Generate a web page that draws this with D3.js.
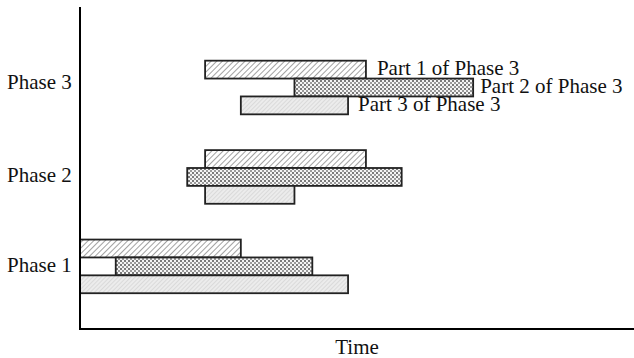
<!DOCTYPE html>
<html lang="en">
<head>
<meta charset="UTF-8">
<title>phases</title>
<script src="https://cdn.jsdelivr.net/npm/d3@7"></script>
<style>
	body { margin: 0; background: #fff; }
	text { font-family: "Liberation Serif", "Times New Roman", serif; fill: #111; }
</style>
</head>
<body>
<svg id="chart" width="634" height="358"></svg>
<script>
var phases = ["Phase 1", "Phase 2", "Phase 3"];
var parts = ["Part 1", "Part 2", "Part 3"];
// start / end of each part, in time units, per phase
var phase1 = [[0, 9], [2, 13], [0, 15]];
var phase2 = [[7, 16], [6, 18], [7, 12]];
var phase3 = [[7, 16], [12, 22], [9, 15]];
var tickPos = [3.6, 8.65, 13.85];
var partLabels = ["Part 1 of Phase 3", "Part 2 of Phase 3", "Part 3 of Phase 3"];

var svg = d3.select("#chart");
var x = d3.scaleLinear().domain([0, 31]).range([80, 634]);
var y = d3.scaleLinear().domain([0, 18]).range([329, 7]);
var labelGap = [11, 7, 10];

var defs = svg.append("defs");
// part 1 : diagonal hatch
var p1 = defs.append("pattern").attr("id", "pat1").attr("patternUnits", "userSpaceOnUse")
	.attr("width", 4).attr("height", 4).attr("patternTransform", "rotate(45)");
p1.append("rect").attr("width", 4).attr("height", 4).attr("fill", "#fff");
p1.append("line").attr("x1", 0).attr("y1", 0).attr("x2", 0).attr("y2", 4)
	.attr("stroke", "#8a8a8a").attr("stroke-width", 1.6);
// part 2 : cross hatch
var p2 = defs.append("pattern").attr("id", "pat2").attr("patternUnits", "userSpaceOnUse")
	.attr("width", 4).attr("height", 4);
p2.append("rect").attr("width", 4).attr("height", 4).attr("fill", "#f4f4f4");
p2.append("rect").attr("x", 0).attr("y", 0).attr("width", 2).attr("height", 2).attr("fill", "#7a7a7a");
p2.append("rect").attr("x", 2).attr("y", 2).attr("width", 2).attr("height", 2).attr("fill", "#9a9a9a");
// part 3 : light fine hatch
var p3 = defs.append("pattern").attr("id", "pat3").attr("patternUnits", "userSpaceOnUse")
	.attr("width", 3).attr("height", 3).attr("patternTransform", "rotate(45)");
p3.append("rect").attr("width", 3).attr("height", 3).attr("fill", "#ececec");
p3.append("line").attr("x1", 0).attr("y1", 0).attr("x2", 0).attr("y2", 3)
	.attr("stroke", "#cfcfcf").attr("stroke-width", 1.2);

var rows = [];
[phase1, phase2, phase3].forEach(function(ph, i) {
	ph.forEach(function(se, j) {
		rows.push({phase: phases[i], part: j, start: se[0], end: se[1], row: 2 + 5 * i + (2 - j)});
	});
});

svg.selectAll(".bar")
	.data(rows)
	.enter()
	.append("rect")
	.attr("class", "bar")
	.attr("x", function(d) { return x(d.start); })
	.attr("y", function(d) { return y(d.row + 1); })
	.attr("width", function(d) { return x(d.end) - x(d.start); })
	.attr("height", function(d) { return y(d.row) - y(d.row + 1); })
	.attr("fill", function(d) { return "url(#pat" + (d.part + 1) + ")"; })
	.attr("stroke", "#222")
	.attr("stroke-width", 1.8);

// labels on phase 3 parts
svg.selectAll(".plabel")
	.data(rows.filter(function(d) { return d.phase == "Phase 3"; }))
	.enter()
	.append("text")
	.attr("class", "plabel")
	.attr("x", function(d) { return x(d.end) + labelGap[d.part]; })
	.attr("y", function(d) { return y(d.row + 0.6); })
	.attr("dy", "0.35em")
	.attr("font-size", 21)
	.text(function(d) { return partLabels[d.part]; });

// axes
svg.append("line").attr("x1", x(0)).attr("x2", x(0)).attr("y1", y(18)).attr("y2", y(0))
	.attr("stroke", "#000").attr("stroke-width", 2);
svg.append("line").attr("x1", x(0) - 1).attr("x2", x(31)).attr("y1", y(0)).attr("y2", y(0))
	.attr("stroke", "#000").attr("stroke-width", 2);

svg.selectAll(".tick")
	.data(phases)
	.enter()
	.append("text")
	.attr("class", "tick")
	.attr("x", 7)
	.attr("y", function(d, i) { return y(tickPos[i]); })
	.attr("dy", "0.35em")
	.attr("font-size", 21)
	.text(function(d) { return d; });

svg.append("text")
	.attr("x", (x(0) + x(31)) / 2)
	.attr("y", 354)
	.attr("text-anchor", "middle")
	.attr("font-size", 21)
	.text("Time");
</script>
</body>
</html>
